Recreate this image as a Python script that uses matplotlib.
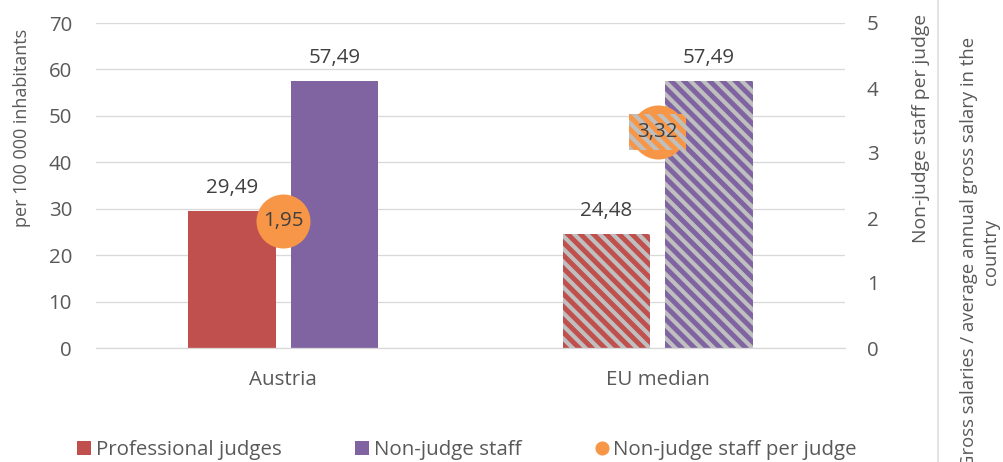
import matplotlib
matplotlib.use("Agg")
import matplotlib.pyplot as plt
import numpy as np
from matplotlib.lines import Line2D
from matplotlib.patches import Patch

# data
categories = ["Austria", "EU median"]
judges = [29.49, 24.48]
staff = [57.49, 57.49]
staff_per_judge = [1.95, 3.32]
hatched = [False, True]

RED = "#c0504d"
PURPLE = "#8064a2"
ORANGE = "#f79646"
GREY_BG = "#bfbfbf"
TXT = "#595959"
DARK = "#404040"

DPI = 77  # hatch tile is tied to dpi -> this gives the stripe spacing of the original
W, H = 1003, 462
PT = 72 / DPI  # px -> pt
FS = 20.5 * PT  # main text size

plt.rcParams["font.family"] = ["Open Sans", "DejaVu Sans"]
plt.rcParams["hatch.linewidth"] = 4.6

fig = plt.figure(figsize=(W / DPI, H / DPI), dpi=DPI)
ax = fig.add_axes([96 / W, 114 / H, 749 / W, 325 / H])
ax2 = ax.twinx()

x = np.arange(len(categories))
off, bw = 0.137, 0.233


def fmt(v):
    return f"{v:.2f}".replace(".", ",")


for xi, j, s, h in zip(x, judges, staff, hatched):
    for xpos, val, col in [(xi - off, j, RED), (xi + off, s, PURPLE)]:
        if h:
            ax.bar(xpos, val, bw, facecolor=GREY_BG, edgecolor=col,
                   linewidth=0, hatch="\\\\", zorder=2)
        else:
            ax.bar(xpos, val, bw, color=col, linewidth=0, zorder=2)
        ax.annotate(fmt(val), (xpos, val), xytext=(0, 13 * PT),
                    textcoords="offset points", ha="center", va="bottom",
                    fontsize=FS, color=DARK)

ax.set_xlim(-0.5, 1.5)
ax.set_ylim(0, 70)
ax.set_yticks(np.arange(0, 71, 10))
ax.set_xticks(x)
ax.set_xticklabels(categories)
ax.yaxis.grid(True, color="#d9d9d9", linewidth=1.3 * PT, zorder=0)
ax.set_axisbelow(True)
for sp in ["left", "right", "top"]:
    ax.spines[sp].set_visible(False)
ax.spines["bottom"].set_color("#d9d9d9")
ax.spines["bottom"].set_linewidth(1.3 * PT)
ax.tick_params(axis="y", length=0, pad=24 * PT, labelsize=FS, labelcolor=TXT)
ax.tick_params(axis="x", length=0, pad=22 * PT, labelsize=FS, labelcolor=TXT)

# secondary axis: staff per judge
ax2.set_ylim(0, 5)
ax2.set_yticks(np.arange(0, 6, 1))
for sp in ax2.spines.values():
    sp.set_visible(False)
ax2.tick_params(axis="y", length=0, pad=22 * PT, labelsize=FS, labelcolor=TXT)
ax2.plot(x, staff_per_judge, "o", ms=54 * PT, color=ORANGE, mec="none", zorder=3)
for xi, v, h in zip(x, staff_per_judge, hatched):
    box = None
    if h:
        box = dict(boxstyle="square,pad=0.4", facecolor=GREY_BG, edgecolor=ORANGE,
                   linewidth=0, hatch="\\\\")
    ax2.text(xi, v, fmt(v), ha="center", va="center", fontsize=FS,
             color=DARK, bbox=box, zorder=4)

# axis titles
fig.text(22 / W, 1 - 128 / H, "per 100 000 inhabitants", rotation=90,
         ha="center", va="center", fontsize=18 * PT, color=TXT)
fig.text(921 / W, 1 - 128 / H, "Non-judge staff per judge", rotation=90,
         ha="center", va="center", fontsize=19.2 * PT, color=TXT)

# neighbouring chart edge + its axis title (cut by the image edge, as in the source)
fig.add_artist(Line2D([938 / W, 938 / W], [0, 1], transform=fig.transFigure,
                      color="#d9d9d9", linewidth=1.5 * PT))
fig.text(980 / W, 1 - 252 / H,
         "Gross salaries / average annual gross salary in the\ncountry",
         rotation=90, ha="center", va="center", multialignment="center",
         fontsize=18.5 * PT, color=TXT, linespacing=1.25)

handles = [
    Patch(facecolor=RED, edgecolor="none"),
    Patch(facecolor=PURPLE, edgecolor="none"),
    Line2D([], [], marker="o", linestyle="none", color=ORANGE, ms=13 * PT),
]
labels = ["Professional judges", "Non-judge staff", "Non-judge staff per judge"]
fig.legend(handles, labels, loc="center", bbox_to_anchor=(467 / W, 12 / H), ncol=3,
           frameon=False, fontsize=FS, labelcolor=TXT,
           handlelength=0.7, handleheight=0.7, handletextpad=0.2,
           columnspacing=3.6, borderaxespad=0, borderpad=0)

fig.savefig("out.png", dpi=DPI)
